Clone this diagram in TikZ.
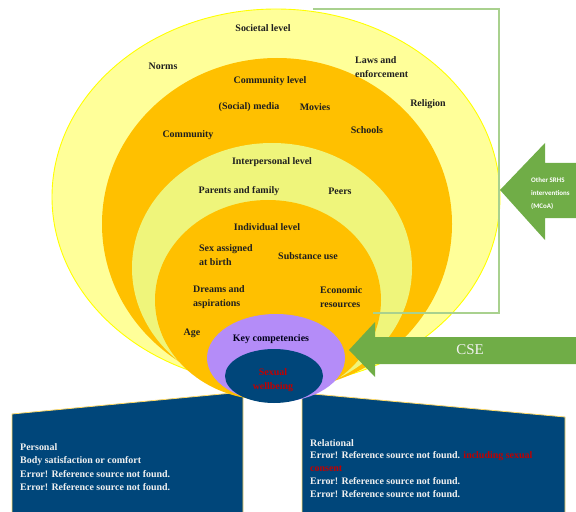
\documentclass[tikz,border=0pt]{standalone}
\usepackage{fontspec}
\setmainfont{Liberation Serif}
\newfontfamily\arrowfont{Carlito}
\usepackage{tikz}

\definecolor{outeryellow}{HTML}{FFFF99}
\definecolor{edgeyellow}{HTML}{FFFF00}
\definecolor{ringorange}{HTML}{FFC000}
\definecolor{ringlight}{HTML}{EFF57B}
\definecolor{compviolet}{HTML}{B48CF8}
\definecolor{navyblue}{HTML}{00467A}
\definecolor{arrowgreen}{HTML}{70AD47}
\definecolor{bracketgreen}{HTML}{A9D18E}
\definecolor{boxgold}{HTML}{FFD966}
\definecolor{wellred}{HTML}{C00000}

\begin{document}
\begin{tikzpicture}[x=1bp,y=-1bp,
  lbl/.style={font=\fontsize{10}{13.5}\selectfont\bfseries,text=black!88,inner sep=0pt},
  boxtxt/.style={font=\fontsize{10}{13.5}\selectfont\bfseries,text=white!94!black,
    align=left,anchor=north west,inner sep=0pt}]
  \clip (0,0) rectangle (576,512);
  % bottom boxes
  \filldraw[fill=navyblue,draw=boxgold,line width=0.8pt] (12,414) -- (243,392) -- (243,514) -- (12,514) -- cycle;
  \filldraw[fill=navyblue,draw=boxgold,line width=0.8pt] (302,393) -- (565,417) -- (565,514) -- (302,514) -- cycle;
  % nested levels
  \filldraw[fill=outeryellow,draw=edgeyellow,line width=0.9pt] (276,197) ellipse (224 and 188);
  \fill[ringorange] (277,224) ellipse (175 and 166);
  \fill[ringlight] (272,268) ellipse (140 and 125);
  \fill[ringorange] (268,300) ellipse (113 and 100);
  \fill[compviolet] (276,358) ellipse (69 and 44);
  \fill[navyblue] (274,376) ellipse (49 and 27);
  % bracket
  \draw[bracketgreen,line width=1.3pt] (313,9) -- (499,9) -- (499,313) -- (373,313);
  % arrows
  \fill[arrowgreen] (500,190) -- (545,143) -- (545,163) -- (580,163) -- (580,218)
    -- (545,218) -- (545,240) -- cycle;
  \fill[arrowgreen] (349,350) -- (375,322) -- (375,337) -- (580,337) -- (580,364)
    -- (375,364) -- (375,377) -- cycle;
  \node[font=\arrowfont\fontsize{7}{13.5}\selectfont\bfseries,text=white,align=left,
    anchor=north west,inner sep=0pt] (srhs) at (531,177) {Other SRHS\\interventions\\(MCoA)};
  \node[font=\fontsize{15}{18}\selectfont,text=white!95!black,inner sep=0pt] (cse) at (470,350) {CSE};
  % labels
  \node[lbl] (societal) at (263,28) {Societal level};
  \node[lbl] (norms) at (163,66) {Norms};
  \node[lbl,align=left,anchor=west] (laws) at (355,67) {Laws and\\enforcement};
  \node[lbl] (religion) at (428,104) {Religion};
  \node[lbl] (communitylvl) at (270,81) {Community level};
  \node[lbl] (media) at (249,107) {(Social) media};
  \node[lbl] (movies) at (315,107) {Movies};
  \node[lbl] (community) at (188,135) {Community};
  \node[lbl] (schools) at (367,130) {Schools};
  \node[lbl] (interpersonal) at (272,162) {Interpersonal level};
  \node[lbl] (parents) at (239,191) {Parents and family};
  \node[lbl] (peers) at (340,191) {Peers};
  \node[lbl] (individual) at (267,227) {Individual level};
  \node[lbl,align=left,anchor=west] (sex) at (199,255) {Sex assigned\\at birth};
  \node[lbl] (substance) at (308,256) {Substance use};
  \node[lbl,align=left,anchor=west] (dreams) at (193,297) {Dreams and\\aspirations};
  \node[lbl,align=left,anchor=west] (economic) at (320,297) {Economic\\resources};
  \node[lbl] (age) at (192,333) {Age};
  \node[lbl,text=black!90!blue] (keycomp) at (271,339) {Key competencies};
  \node[lbl,text=wellred,align=center] (wellbeing) at (273,380) {Sexual\\wellbeing};
  % box texts
  \node[boxtxt] (personal) at (20,443) {Personal\\Body satisfaction or comfort\\
    Error! Reference source not found.\\Error! Reference source not found.};
  \node[boxtxt,font=\fontsize{10}{12.8}\selectfont\bfseries] (relational) at (310,439) {Relational\\
    Error! Reference source not found. \textcolor{wellred}{including sexual}\\
    \textcolor{wellred}{consent}\\Error! Reference source not found.\\
    Error! Reference source not found.};
\end{tikzpicture}
\end{document}
